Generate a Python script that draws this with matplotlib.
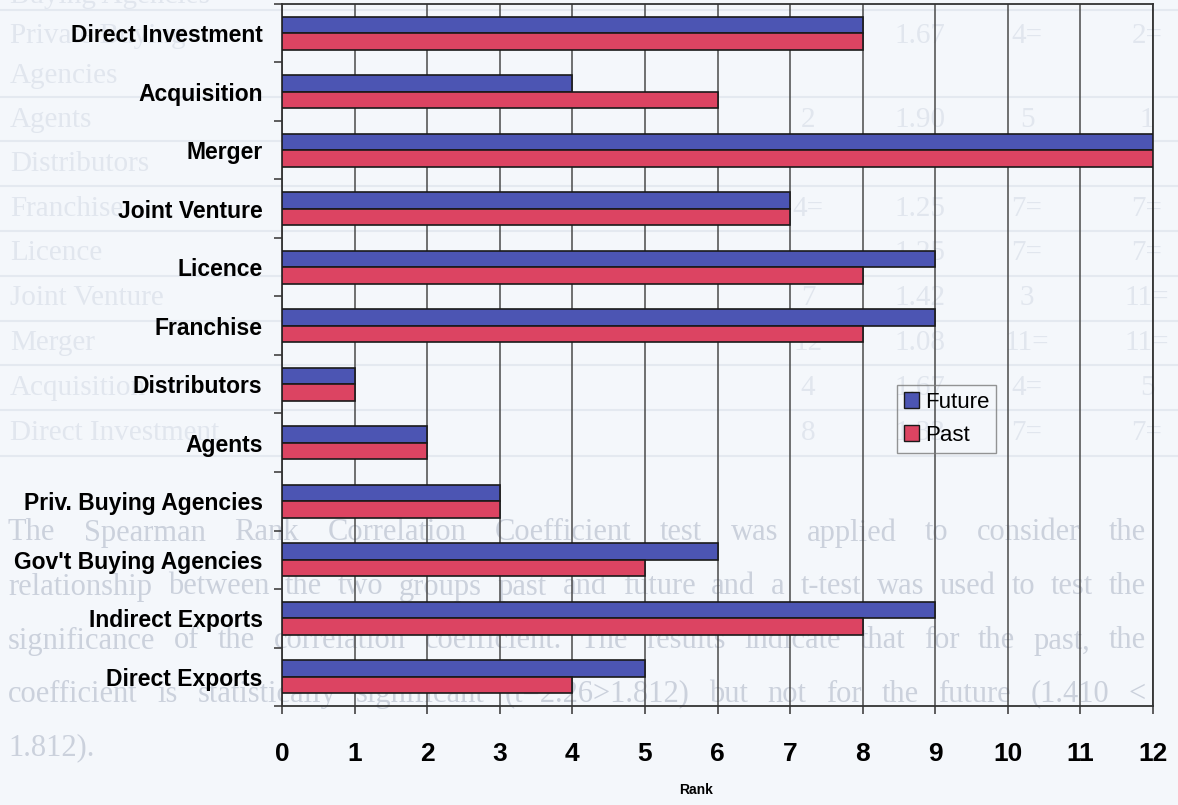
import numpy as np
import matplotlib.pyplot as plt
from matplotlib.patches import Patch

# ranks of each entry mode, top to bottom as drawn
categories = ["Direct Investment", "Acquisition", "Merger", "Joint Venture",
              "Licence", "Franchise", "Distributors", "Agents",
              "Priv. Buying Agencies", "Gov't Buying Agencies",
              "Indirect Exports", "Direct Exports"]
future = [8, 4, 12, 7, 9, 9, 1, 2, 3, 6, 9, 5]
past = [8, 6, 12, 7, 8, 8, 1, 2, 3, 5, 8, 4]
rank_ticks = list(range(0, 13))

# faded page underneath: the ranking table and the paragraph that follows it
table_rows = ["Buying Agencies", "Private Buying", "Agencies", "Agents",
              "Distributors", "Franchise", "Licence", "Joint Venture",
              "Merger", "Acquisition", "Direct Investment"]
table_row_y = [-4, 36, 76, 120, 164, 209, 253, 298, 343, 388, 433]
table_cols_x = [808, 920, 1027, 1147]
table_cells = [
    ["", "", "", ""],
    ["", "1.67", "4=", "2="],
    ["", "", "", ""],
    ["2", "1.90", "5", "1"],
    ["", "", "", ""],
    ["4=", "1.25", "7=", "7="],
    ["", "1.25", "7=", "7="],
    ["7", "1.42", "3", "11="],
    ["12", "1.08", "11=", "11="],
    ["4", "1.67", "4=", "5"],
    ["8", "1.33", "7=", "7="],
]
table_rule_y = [10, 97, 141, 186, 231, 276, 321, 365, 410, 456]
paragraph = [
    "The Spearman Rank Correlation Coefficient test was applied to consider the",
    "relationship between the two groups past and future and a t-test was used to test the",
    "significance of the correlation coefficient.  The results indicate that for the past, the",
    "coefficient is statistically significant (t=2.26>1.812) but not for the future (1.410 <",
    "1.812).",
]
paragraph_y = [533, 587, 641, 694, 748]

W, H = 1178, 805
fig = plt.figure(figsize=(W / 100, H / 100), dpi=100, facecolor="#f4f7fb")
renderer = fig.canvas.get_renderer()

serif = "Liberation Serif"
faint_table = "#e1e6ee"
faint_text = "#cbd1dc"


def px(x, y):
    return x / W, 1 - y / H


for y in table_rule_y:
    fig.add_artist(plt.Line2D([0, 1], [1 - y / H] * 2, color="#e4e9f0",
                              lw=1.5, zorder=0))
for name, y, cells in zip(table_rows, table_row_y, table_cells):
    fig.text(*px(10, y), name, family=serif, fontsize=21, color=faint_table,
             va="center", zorder=0)
    for x, cell in zip(table_cols_x, cells):
        if cell:
            fig.text(*px(x, y), cell, family=serif, fontsize=21,
                     color=faint_table, ha="center", va="center", zorder=0)

# justified paragraph lines (last line left aligned)
left, right = 8, 1146
for i, (line, y) in enumerate(zip(paragraph, paragraph_y)):
    words = line.split()
    if i == len(paragraph) - 1:
        fig.text(*px(left, y), line, family=serif, fontsize=22,
                 color=faint_text, va="center", zorder=0)
        continue
    texts = [fig.text(0, 1 - y / H, w, family=serif, fontsize=22,
                      color=faint_text, va="center", zorder=0) for w in words]
    widths = [t.get_window_extent(renderer).width for t in texts]
    gap = (right - left - sum(widths)) / (len(words) - 1)
    x = left
    for t, w in zip(texts, widths):
        t.set_x(x / W)
        x += w + gap

# the chart, drawn over the page with a see-through plot area
ax = fig.add_axes([282 / W, 1 - 706 / H, 871 / W, 702 / H])
ax.set_facecolor("none")
ax.set_zorder(1)

pos = np.arange(len(categories))
h = 0.285
ax.barh(pos - h / 2, future, height=h, color="#4c55b3", edgecolor="#1a1a1a",
        linewidth=1.2, label="Future", zorder=3)
ax.barh(pos + h / 2, past, height=h, color="#dc4462", edgecolor="#1a1a1a",
        linewidth=1.2, label="Past", zorder=3)

ax.set_xlim(0, 12)
ax.set_ylim(len(categories) - 0.5, -0.5)

sans = "Liberation Sans"

ax.set_xticks(rank_ticks)
ax.set_xticklabels([str(v) for v in rank_ticks], family=sans,
                   fontweight="bold", fontsize=19)
ax.tick_params(axis="x", direction="out", length=6, width=1.1, pad=20,
               color="#333333")
ax.xaxis.grid(True, color="#4a4a4a", lw=1.1, zorder=1)

ax.set_yticks(np.arange(-0.5, len(categories)), minor=False)
ax.set_yticklabels([])
ax.set_yticks(pos, minor=True)
ax.set_yticklabels(categories, minor=True, family=sans, fontweight="bold",
                   fontsize=16.5)
ax.tick_params(axis="y", which="major", direction="out", length=6, width=1.1,
               color="#333333")
ax.tick_params(axis="y", which="minor", length=0, pad=14)

for s in ax.spines.values():
    s.set_color("#333333")
    s.set_linewidth(1.3)

fig.text(696 / W, 1 - 790 / H, "Rank", family=sans, fontweight="bold",
         fontsize=10, ha="center", va="center", zorder=2)

leg = ax.legend(handles=[Patch(facecolor="#4c55b3", edgecolor="#1a1a1a", label="Future"),
                         Patch(facecolor="#dc4462", edgecolor="#1a1a1a", label="Past")],
                loc="upper left", bbox_to_anchor=(897 / W, 1 - 385 / H),
                bbox_transform=fig.transFigure, frameon=True, fancybox=False,
                prop={"family": sans, "size": 16},
                handlelength=0.7, handleheight=0.7, handletextpad=0.25,
                borderpad=0.3, labelspacing=0.55, borderaxespad=0)
leg.get_frame().set_edgecolor("#7a7a7a")
leg.get_frame().set_linewidth(1.0)
leg.get_frame().set_facecolor("none")
leg.set_zorder(5)

fig.savefig("out.png", dpi=100, facecolor=fig.get_facecolor())
